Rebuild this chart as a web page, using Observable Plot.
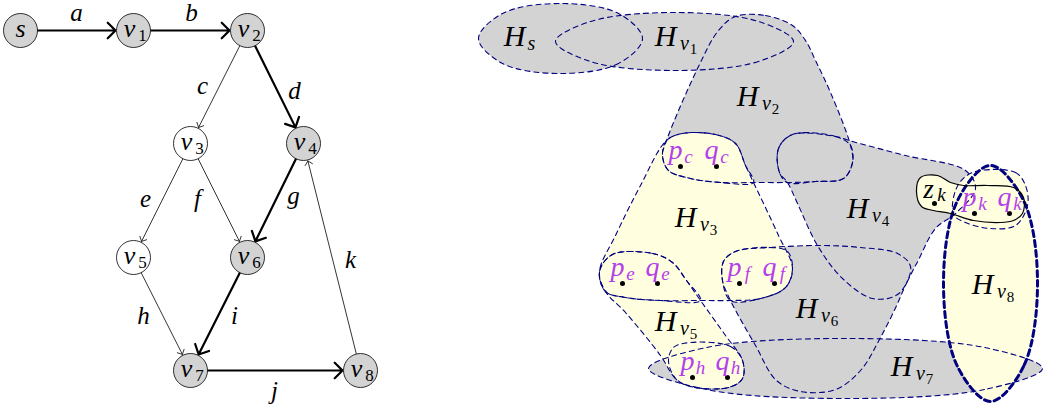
<!DOCTYPE html>
<html><head><meta charset="utf-8">
<script src="https://cdn.jsdelivr.net/npm/d3@7"></script>
<script src="https://cdn.jsdelivr.net/npm/@observablehq/plot@0.6"></script>
<style>body{margin:0;background:#fff}</style>
</head><body><div id="chart"></div>
<script>
// ---------- left graph ----------
const nodeLetter = ["s","v","v","v","v","v","v","v","v"];
const nodeSub    = ["","1","2","3","4","5","6","7","8"];
const nodeX      = [20,133,247,190,303,133,247,190,360];
const nodeY      = [30,30,30,143,143,257,257,370,370];
const nodeOnPath = [1,1,1,0,1,0,1,1,1];

const edgeLabel  = ["a","b","c","d","e","f","g","h","i","j","k"];
const edgeFrom   = [0,1,2,2,3,3,4,5,6,7,8];
const edgeTo     = [1,2,3,4,5,6,6,7,7,8,4];
const edgeBold   = [1,1,0,1,0,0,1,0,1,1,0];
const edgeLabelX = [76,191,202,294,145,197,293,143,234,274,350];
const edgeLabelY = [20,20,93,98,206,206,203,323,323,398,267];

// ---------- right hypergraph: outlines ----------
const Hs  = [[642,38],[618,63],[560,73],[502,63],[478,38],[502,13],[560,3],[618,13]];
const Hv1 = [[793,41],[758,61],[674,70],[590,61],[555,41],[590,21],[674,12],[758,21]];
const Hv2 = [[735,16],[765,15],[792,25],[805,40],[815,60],[830,92],[850,145],[852,162],[843,178],[815,181],[787,182],[753,182],[720,182],[690,178],[668,170],[662,155],[666,140],[698,66],[718,30]];
const Hv4 = [[779,172],[778,148],[792,134],[835,136],[852,141],[905,155],[965,170],[975,188],[955,213],[935,228],[915,265],[897,294],[872,298],[842,278],[817,245],[797,203],[787,182]];
const Hv6 = [[735,251],[770,247],[820,245],[860,247],[897,253],[910,266],[900,296],[880,337],[860,370],[835,389],[800,391],[776,380],[755,345],[730,300],[722,280],[723,261]];
const Hv7 = [[1042,368],[984,389],[845,398],[706,389],[648,368],[706,347],[845,338],[984,347]];
const Hv3 = [[666,140],[682,133],[715,134],[735,143],[745,165],[753,182],[778,235],[792,268],[785,287],[760,298],[730,300],[700,300],[660,300],[625,297],[605,291],[599,271],[615,235],[640,185]];
const Hv5 = [[612,254],[652,253],[672,262],[686,280],[700,300],[725,335],[742,360],[742,378],[728,387],[690,386],[675,378],[660,355],[625,312],[605,291],[599,271]];
const Hv8 = [[1037,283],[1023,366],[990,401],[957,366],[943,283],[957,200],[990,165],[1023,200]];
const dEll  = [[792,134],[835,136],[850,145],[852,162],[843,178],[815,181],[787,182],[779,172],[778,148]];
const cPill = [[682,133],[715,134],[735,143],[745,165],[753,182],[720,182],[690,178],[668,170],[662,155],[666,140]];
const ePill = [[612,254],[652,253],[672,262],[686,280],[700,300],[660,300],[625,297],[605,291],[599,271]];
const fPill = [[735,251],[770,247],[787,251],[792,268],[785,287],[760,298],[730,300],[722,280],[723,261]];
const hPill = [[690,342],[730,346],[742,360],[742,378],[728,387],[690,386],[675,378],[668,360],[673,347]];
const kPill = [[980,170],[1015,172],[1025,185],[1027,205],[1015,225],[990,228],[965,222],[953,214],[955,190],[965,176]];
const zPill = [[920,177],[937,175],[950,182],[963,185],[987,185],[1013,187],[1023,197],[1022,213],[1013,220],[1000,222],[973,220],[950,213],[933,210],[921,206],[916,191]];

// ---------- labels ----------
const hubSub   = ["s","v","v","v","v","v","v","v","v"];
const hubSub2  = ["","1","2","3","4","5","6","7","8"];
const hubX     = [514,665,747,685,857,665,806,901,982];
const hubY     = [45,45,105,226,217,330,317,375,293];

const gadget   = ["c","e","f","h","k"];
const pX       = [680,622,739,692,974];
const qX       = [716,657,774,727,1009];
const gY       = [166,283,283,377,213];
const zX = 934, zY = 203;

// ---------- build ----------
const rows = (name, pts) => pts.map(([x, y]) => ({shape: name, x, y}));
const grayRows   = [...rows("Hs",Hs),...rows("Hv1",Hv1),...rows("Hv2",Hv2),...rows("Hv4",Hv4),...rows("Hv6",Hv6),...rows("Hv7",Hv7)];
const yellowRows = [...rows("Hv3",Hv3),...rows("Hv5",Hv5),...rows("Hv8",Hv8),...rows("c",cPill),...rows("f",fPill),...rows("h",hPill),...rows("k",kPill),...rows("z",zPill)];
const thinRows   = [...rows("Hs",Hs),...rows("Hv1",Hv1),...rows("Hv2",Hv2),...rows("Hv4",Hv4),...rows("Hv6",Hv6),...rows("Hv7",Hv7),
                    ...rows("Hv3",Hv3),...rows("Hv5",Hv5),...rows("d",dEll),...rows("c",cPill),...rows("e",ePill),...rows("f",fPill),...rows("h",hPill),...rows("k",kPill)];

const GRAY = "#d3d3d3", YEL = "#ffffe0", NAVY = "#000080", PURPLE = "#b440ea";
const serif = "Liberation Serif";
const curve = "catmull-rom-closed";
const nIdx = d3.range(nodeX.length), eIdx = d3.range(edgeFrom.length);
const hIdx = d3.range(hubX.length), gIdx = d3.range(gadget.length);
const txt = {fontFamily: serif, lineAnchor: "bottom", textAnchor: "middle"};

const gadgetPts = [...gIdx.map(i => [pX[i], gY[i]]), ...gIdx.map(i => [qX[i], gY[i]]), [zX, zY]];

const chart = Plot.plot({
  width: 1044, height: 406, margin: 0,
  x: {domain: [0, 1044], range: [0, 1044], axis: null},
  y: {domain: [0, 406], range: [0, 406], axis: null},
  style: {background: "white", overflow: "visible"},
  marks: [
    // fills
    Plot.line(grayRows, {x: "x", y: "y", z: "shape", curve, fill: GRAY, stroke: "none"}),
    Plot.line(yellowRows, {x: "x", y: "y", z: "shape", curve, fill: YEL, stroke: "none"}),
    // outlines
    Plot.line(thinRows, {x: "x", y: "y", z: "shape", curve, fill: "none", stroke: NAVY, strokeWidth: 1.1, strokeDasharray: "5,4"}),
    Plot.line(rows("Hv8", Hv8), {x: "x", y: "y", curve, fill: "none", stroke: NAVY, strokeWidth: 3, strokeDasharray: "6,4"}),
    Plot.line(rows("z", zPill), {x: "x", y: "y", curve, fill: "none", stroke: "black", strokeWidth: 1.2}),
    Plot.dot(gadgetPts, {x: d => d[0], y: d => d[1], r: 2.5, fill: "black"}),
    // hyperedge labels
    Plot.text(hIdx, {...txt, x: i => hubX[i], y: i => hubY[i], text: () => "H", fontSize: 30, fontStyle: "italic"}),
    Plot.text(hIdx, {...txt, x: i => hubX[i] + (hubSub2[i] ? 19 : 17), y: i => hubY[i] + 4, text: i => hubSub[i], fontSize: 20, fontStyle: "italic"}),
    Plot.text(hIdx, {...txt, x: i => hubX[i] + 28, y: i => hubY[i] + 8, text: i => hubSub2[i], fontSize: 15}),
    // gadget labels
    Plot.text(gIdx, {...txt, x: i => pX[i] - 5, y: i => gY[i] - 8, text: () => "p", fill: PURPLE, fontSize: 28, fontStyle: "italic"}),
    Plot.text(gIdx, {...txt, x: i => pX[i] + 8, y: i => gY[i] - 4, text: i => gadget[i], fill: PURPLE, fontSize: 19, fontStyle: "italic"}),
    Plot.text(gIdx, {...txt, x: i => qX[i] - 5, y: i => gY[i] - 8, text: () => "q", fill: PURPLE, fontSize: 28, fontStyle: "italic"}),
    Plot.text(gIdx, {...txt, x: i => qX[i] + 8, y: i => gY[i] - 4, text: i => gadget[i], fill: PURPLE, fontSize: 19, fontStyle: "italic"}),
    Plot.text([0], {...txt, x: () => zX - 6, y: () => zY - 6, text: () => "z", fontSize: 27, fontStyle: "italic"}),
    Plot.text([0], {...txt, x: () => zX + 7, y: () => zY - 3, text: () => "k", fontSize: 19, fontStyle: "italic"}),
    // left graph edges
    Plot.arrow(eIdx.filter(i => edgeBold[i]), {x1: i => nodeX[edgeFrom[i]], y1: i => nodeY[edgeFrom[i]], x2: i => nodeX[edgeTo[i]], y2: i => nodeY[edgeTo[i]],
      insetStart: 17, insetEnd: 18, stroke: "black", strokeWidth: 2.2, headLength: 7.5, headAngle: 90}),
    Plot.arrow(eIdx.filter(i => !edgeBold[i]), {x1: i => nodeX[edgeFrom[i]], y1: i => nodeY[edgeFrom[i]], x2: i => nodeX[edgeTo[i]], y2: i => nodeY[edgeTo[i]],
      insetStart: 17, insetEnd: 18, stroke: "black", strokeWidth: 0.8, headLength: 10, headAngle: 90}),
    Plot.text(eIdx, {...txt, x: i => edgeLabelX[i], y: i => edgeLabelY[i], text: i => edgeLabel[i], fontSize: 25, fontStyle: "italic"}),
    // nodes
    Plot.dot(nIdx, {x: i => nodeX[i], y: i => nodeY[i], r: 17, fill: i => nodeOnPath[i] ? GRAY : "white", stroke: "black", strokeWidth: 0.8}),
    Plot.text(nIdx, {...txt, x: i => nodeX[i] - (nodeSub[i] ? 4 : 0), y: i => nodeY[i] + 6, text: i => nodeLetter[i], fontSize: 26, fontStyle: "italic"}),
    Plot.text(nIdx, {...txt, x: i => nodeX[i] + 9, y: i => nodeY[i] + 10, text: i => nodeSub[i], fontSize: 17})
  ]
});
document.getElementById("chart").append(chart);
</script></body></html>
